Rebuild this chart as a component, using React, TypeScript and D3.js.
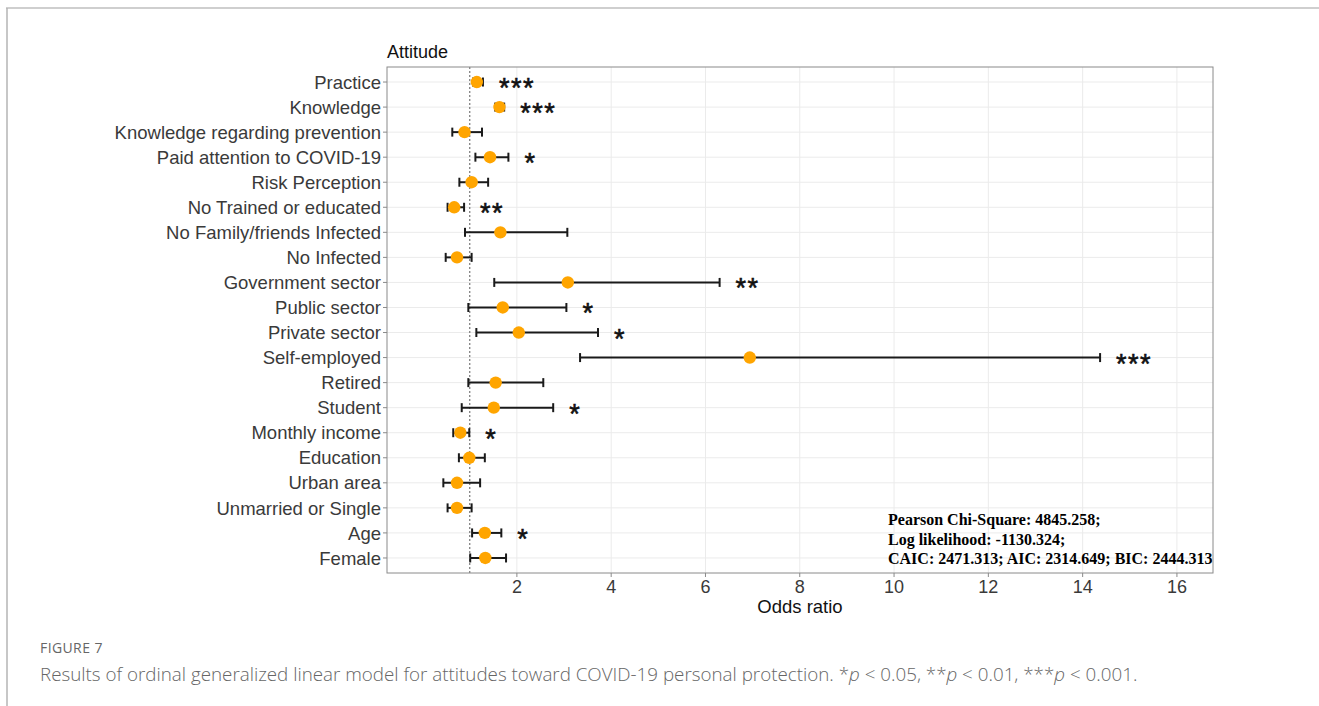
import React from "react";
import * as d3 from "d3";

const categories = [
  "Practice",
  "Knowledge",
  "Knowledge regarding prevention",
  "Paid attention to COVID-19",
  "Risk Perception",
  "No Trained or educated",
  "No Family/friends Infected",
  "No Infected",
  "Government sector",
  "Public sector",
  "Private sector",
  "Self-employed",
  "Retired",
  "Student",
  "Monthly income",
  "Education",
  "Urban area",
  "Unmarried or Single",
  "Age",
  "Female",
];
const oddsRatio = [1.15, 1.63, 0.89, 1.43, 1.04, 0.67, 1.65, 0.73, 3.08, 1.70, 2.04, 6.94, 1.55, 1.51, 0.80, 0.99, 0.73, 0.73, 1.32, 1.33];
const ciLower = [1.07, 1.54, 0.63, 1.12, 0.78, 0.53, 0.90, 0.49, 1.52, 0.97, 1.14, 3.34, 0.97, 0.83, 0.65, 0.77, 0.44, 0.53, 1.05, 1.01];
const ciUpper = [1.28, 1.73, 1.26, 1.82, 1.39, 0.88, 3.07, 1.04, 6.30, 3.05, 3.72, 14.37, 2.56, 2.77, 0.99, 1.32, 1.22, 1.04, 1.67, 1.77];
const significance = ["***", "***", "", "*", "", "**", "", "", "**", "*", "*", "***", "", "*", "*", "", "", "", "*", ""];
const xTicks = [2, 4, 6, 8, 10, 12, 14, 16];
const statsLines = [
  "Pearson Chi-Square: 4845.258;",
  "Log likelihood: -1130.324;",
  "CAIC: 2471.313; AIC: 2314.649; BIC: 2444.313",
];
const panelTitle = "Attitude";
const xTitle = "Odds ratio";
const figureLabel = "FIGURE 7";
const captionText = "Results of ordinal generalized linear model for attitudes toward COVID-19 personal protection. ";

export default function App() {
  const W = 1319;
  const H = 706;
  const left = 387;
  const right = 1213;
  const top = 67;
  const bottom = 573;

  const x = d3.scaleLinear().domain([-0.755, 16.765]).range([left, right]);
  const y = d3
    .scalePoint<string>()
    .domain(categories)
    .range([top, bottom])
    .padding(0.6);

  const sans = "'Liberation Sans', Arial, sans-serif";
  const capFont = "'Open Sans', 'Noto Sans', sans-serif";

  return (
    <svg
      width={W}
      height={H}
      style={{ position: "absolute", left: 0, top: 0, background: "#fff" }}
    >
      {/* page frame */}
      <line x1={6} x2={W} y1={8} y2={8} stroke="#cfcfcf" strokeWidth={2} />
      <line x1={7} x2={7} y1={8} y2={H} stroke="#b5b5b5" strokeWidth={1.5} />

      {/* panel background */}
      <rect x={left} y={top} width={right - left} height={bottom - top} fill="#fff" />

      {/* grid */}
      {categories.map((c) => (
        <line key={"gy" + c} x1={left} x2={right} y1={y(c)} y2={y(c)} stroke="#ebebeb" strokeWidth={1} />
      ))}
      {xTicks.map((t) => (
        <line key={"gx" + t} x1={x(t)} x2={x(t)} y1={top} y2={bottom} stroke="#ebebeb" strokeWidth={1} />
      ))}

      {/* reference line at 1 */}
      <line x1={x(1)} x2={x(1)} y1={top} y2={bottom} stroke="#777" strokeWidth={1.2} strokeDasharray="2,2" />

      {/* error bars */}
      {categories.map((c, i) => {
        const yy = y(c) as number;
        return (
          <g key={"eb" + c} stroke="#1a1a1a" strokeWidth={2}>
            <line x1={x(ciLower[i])} x2={x(ciUpper[i])} y1={yy} y2={yy} />
            <line x1={x(ciLower[i])} x2={x(ciLower[i])} y1={yy - 4.5} y2={yy + 4.5} />
            <line x1={x(ciUpper[i])} x2={x(ciUpper[i])} y1={yy - 4.5} y2={yy + 4.5} />
          </g>
        );
      })}

      {/* points */}
      {categories.map((c, i) => (
        <circle key={"pt" + c} cx={x(oddsRatio[i])} cy={y(c)} r={6.2} fill="#FFA500" />
      ))}

      {/* significance stars */}
      {categories.map((c, i) =>
        significance[i] ? (
          <text
            key={"st" + c}
            x={x(ciUpper[i]) + 16}
            y={(y(c) as number) + 15}
            fontFamily={sans}
            fontSize={27}
            letterSpacing={1.5}
            stroke="#111"
            strokeWidth={0.6}
            fill="#111"
          >
            {significance[i]}
          </text>
        ) : null
      )}

      {/* stats text */}
      {statsLines.map((s, i) => (
        <text
          key={"sl" + i}
          x={888}
          y={525 + i * 19.5}
          fontFamily="'Liberation Serif', 'Times New Roman', serif"
          fontWeight="bold"
          fontSize={16}
          fill="#000"
        >
          {s}
        </text>
      ))}

      {/* panel border */}
      <rect x={left} y={top} width={right - left} height={bottom - top} fill="none" stroke="#8a8a8a" strokeWidth={1} />

      {/* y axis ticks & labels */}
      {categories.map((c) => (
        <g key={"yl" + c}>
          <line x1={left - 4} x2={left} y1={y(c)} y2={y(c)} stroke="#8a8a8a" strokeWidth={1} />
          <text
            x={left - 6}
            y={y(c)}
            dy="0.36em"
            textAnchor="end"
            fontFamily={sans}
            fontSize={18.5}
            fill="#3a3a3a"
          >
            {c}
          </text>
        </g>
      ))}

      {/* x axis ticks & labels */}
      {xTicks.map((t) => (
        <g key={"xl" + t}>
          <line x1={x(t)} x2={x(t)} y1={bottom} y2={bottom + 4} stroke="#8a8a8a" strokeWidth={1} />
          <text
            x={x(t)}
            y={bottom + 20}
            textAnchor="middle"
            fontFamily={sans}
            fontSize={18}
            fill="#3a3a3a"
          >
            {t}
          </text>
        </g>
      ))}

      {/* titles */}
      <text x={387} y={58} fontFamily={sans} fontSize={18} fill="#111">
        {panelTitle}
      </text>
      <text x={(left + right) / 2} y={613} textAnchor="middle" fontFamily={sans} fontSize={18.5} fill="#111">
        {xTitle}
      </text>

      {/* caption */}
      <text x={40} y={653} fontFamily={capFont} fontSize={14} fill="#666" letterSpacing={0.4}>
        {figureLabel}
      </text>
      <text x={40} y={681} fontFamily={capFont} fontSize={18.8} fill="#666" fontWeight={300}>
        {captionText}
        <tspan>*</tspan>
        <tspan fontStyle="italic">p</tspan>
        <tspan>{" < 0.05, **"}</tspan>
        <tspan fontStyle="italic">p</tspan>
        <tspan>{" < 0.01, ***"}</tspan>
        <tspan fontStyle="italic">p</tspan>
        <tspan>{" < 0.001."}</tspan>
      </text>
    </svg>
  );
}
